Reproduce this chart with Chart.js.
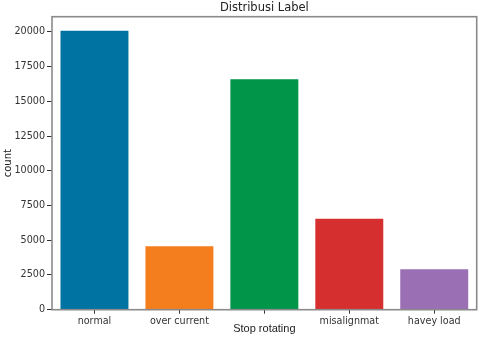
<!DOCTYPE html>
<html lang="en">
<head>
    <meta charset="UTF-8">
    <title>Distribusi Label</title>
    <script src="https://cdn.jsdelivr.net/npm/chart.js"></script>
    <style>
        html, body { margin: 0; padding: 0; background: #fff; }
        #wrap { width: 480px; height: 337px; }
    </style>
</head>
<body>
    <div id="wrap"><canvas id="labelChart"></canvas></div>

    <script>
        // data
        const categories = ['normal', 'over current', 'Stop rotating', 'misalignmat', 'havey load'];
        const counts = [20090, 4560, 16590, 6550, 2910];
        const barColors = ['#0173a2', '#f47e1e', '#01954a', '#d62f30', '#9a6fb3'];
        const yTicks = [0, 2500, 5000, 7500, 10000, 12500, 15000, 17500, 20000];
        const chartTitle = 'Distribusi Label';

        const tickFont = { family: 'DejaVu Sans', size: 9.6 };

        // matplotlib-like frame round the plot area, title centred over the axes
        const framePlugin = {
            id: 'frame',
            afterDraw(chart) {
                const a = chart.chartArea;
                const ctx = chart.ctx;
                ctx.save();
                ctx.strokeStyle = '#8a8a8a';
                ctx.lineWidth = 1.6;
                ctx.strokeRect(a.left, a.top, a.right - a.left, a.bottom - a.top);
                ctx.fillStyle = '#222';
                ctx.font = '11.5px "DejaVu Sans"';
                ctx.textAlign = 'center';
                ctx.textBaseline = 'middle';
                ctx.fillText(chartTitle, (a.left + a.right) / 2, 8);
                ctx.restore();
            }
        };

        new Chart(document.getElementById('labelChart'), {
            type: 'bar',
            data: {
                labels: categories,
                datasets: [{
                    data: counts,
                    backgroundColor: barColors,
                    borderWidth: 0,
                    barPercentage: 0.8,
                    categoryPercentage: 1
                }]
            },
            plugins: [framePlugin],
            options: {
                responsive: true,
                maintainAspectRatio: false,
                animation: false,
                layout: { padding: { left: 0, right: 3.3, top: 16.7, bottom: 0 } },
                plugins: {
                    legend: { display: false },
                    tooltip: { enabled: false },
                    title: { display: false }
                },
                scales: {
                    x: {
                        offset: true,
                        grid: { display: true, drawOnChartArea: false, drawTicks: true, tickLength: 4, color: '#333', offset: false },
                        border: { display: false },
                        ticks: {
                            color: '#333',
                            font: tickFont,
                            padding: 2,
                            maxRotation: 0,
                            autoSkip: false,
                            // the third name only shows as the axis label, lower down
                            callback: (v, i) => i === 2 ? '' : categories[i]
                        },
                        title: {
                            display: true,
                            text: categories[2],
                            color: '#222',
                            font: { family: "'Liberation Sans Narrow', 'Liberation Sans'", size: 11 },
                            padding: { top: 0, bottom: 1.5 }
                        },
                        afterFit: s => { s.height = 337 - 309.7; }
                    },
                    y: {
                        min: 0,
                        max: 21094,
                        afterBuildTicks: s => { s.ticks = yTicks.map(v => ({ value: v })); },
                        grid: { display: true, drawOnChartArea: false, drawTicks: true, tickLength: 5, color: '#333' },
                        border: { display: false },
                        ticks: { color: '#333', font: tickFont, padding: 2, callback: v => String(v) },
                        title: {
                            display: true,
                            text: 'count',
                            color: '#222',
                            font: { family: 'DejaVu Sans', size: 10 },
                            padding: { top: 2, bottom: 2 }
                        },
                        afterFit: s => { s.width = 52; }
                    }
                }
            }
        });
    </script>
</body>
</html>
